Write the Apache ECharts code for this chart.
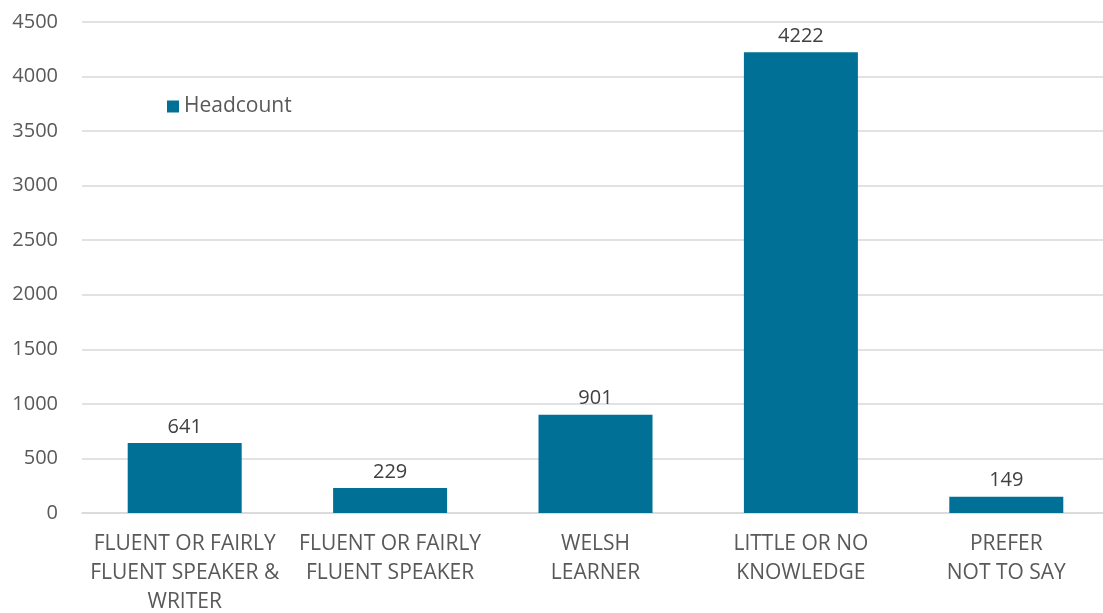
<!DOCTYPE html>
<html><head><meta charset="utf-8">
<script src="https://cdn.jsdelivr.net/npm/echarts@6/dist/echarts.min.js"></script>
<style>html,body{margin:0;padding:0;background:#fff}#c{width:1103px;height:613px}</style>
</head><body><div id="c"></div>
<script>
const categories = ["FLUENT OR FAIRLY\nFLUENT SPEAKER &\nWRITER", "FLUENT OR FAIRLY\nFLUENT SPEAKER", "WELSH\nLEARNER", "LITTLE OR NO\nKNOWLEDGE", "PREFER\nNOT TO SAY"];
const headcount = [641, 229, 901, 4222, 149];
const seriesName = "Headcount";
const FONT = "'Open Sans', 'Noto Sans', sans-serif";
const chart = echarts.init(document.getElementById('c'));
chart.setOption({
  animation: false,
  textStyle: { fontFamily: FONT },
  grid: { left: 82, width: 1027, top: 22, height: 491, containLabel: false, outerBoundsMode: 'none' },
  legend: {
    data: [seriesName], left: 162, top: 91, itemWidth: 12, itemHeight: 12, icon: 'rect', itemGap: 6,
    textStyle: { color: '#595959', fontSize: 21, fontFamily: FONT }
  },
  xAxis: {
    type: 'category', data: categories,
    axisLine: { show: true, lineStyle: { color: '#d9d9d9', width: 1.5 } },
    axisTick: { show: false },
    axisLabel: { color: '#595959', fontSize: 21, lineHeight: 29, margin: 17, interval: 0, fontFamily: FONT }
  },
  yAxis: {
    type: 'value', min: 0, max: 4500, interval: 500,
    axisLine: { show: false }, axisTick: { show: false },
    splitLine: { lineStyle: { color: '#d9d9d9', width: 1.5 } },
    axisLabel: { color: '#595959', fontSize: 20, margin: 24, fontFamily: FONT, formatter: v => String(v) }
  },
  series: [{
    name: seriesName, type: 'bar', data: headcount, barWidth: 114,
    itemStyle: { color: '#007096' },
    label: { show: true, position: 'top', distance: 6, color: '#404040', fontSize: 20, fontFamily: FONT }
  }]
});
</script></body></html>
